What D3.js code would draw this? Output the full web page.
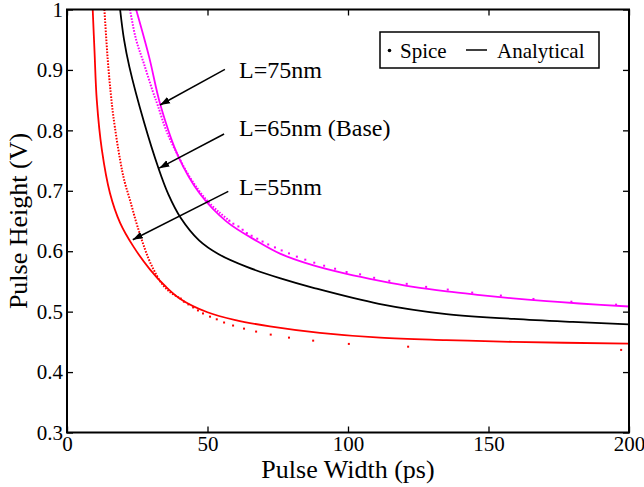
<!DOCTYPE html>
<html>
<head>
<meta charset="utf-8">
<script src="https://cdn.jsdelivr.net/npm/d3@7"></script>
<style>
  body { margin: 0; background: #fff; }
  svg { display: block; font-family: "Liberation Serif", "Times New Roman", serif; }
</style>
</head>
<body>
<div id="chart"></div>
<script>
// pulse width (ps), pulse height (V)

// analytical curves
const analytical55 = [[9.15,1.0],[9.8,0.93],[10.6,0.85],[12.4,0.768],[15.3,0.696],[18.9,0.647],[23.6,0.608],
  [29.5,0.57],[35,0.542],[40.2,0.5215],[50,0.499],[60,0.486],[72.2,0.4757],[90,0.465],[111.4,0.457],
  [135,0.453],[158.7,0.45],[200,0.447]];
const analytical65 = [[18.9,1.0],[20.3,0.95],[22.2,0.905],[27.5,0.812],[32.5,0.738],[36,0.695],[40.5,0.655],
  [47,0.618],[54,0.595],[64,0.574],[76,0.555],[88,0.539],[111,0.513],[135,0.496],[159,0.488],[180,0.483],[200,0.479]];
const analytical75 = [[24.6,1.0],[29.2,0.922],[33.3,0.841],[39.6,0.757],[47.3,0.695],[56.8,0.649],[67.5,0.617],
  [75.8,0.596],[87.7,0.5765],[99.5,0.5625],[111.4,0.551],[123.2,0.541],[135.1,0.5335],[147,0.5275],
  [158.8,0.522],[170.7,0.5175],[182.4,0.5135],[200,0.5085]];

// spice points: steep part (dots too close to separate) and the separate dots
const spice55Steep = [[13.3,1.0],[14.0,0.95],[14.7,0.905],[15.6,0.86],[16.5,0.823],[18.9,0.751],[20.5,0.715],
  [22.4,0.685],[24.5,0.65],[26.6,0.619],[28.9,0.589],[31,0.568],[33.5,0.548],[36.5,0.533],[40.5,0.5215]];
const spice55Pts = [[40.5,0.5215],[41.6,0.5165],[43.2,0.512],[44.9,0.507],[46.6,0.502],[48.4,0.497],
  [50.9,0.4917],[53.3,0.4873],[55.9,0.482],[59.1,0.477],[63.0,0.4719],[67.3,0.467],[72.5,0.462],[79.0,0.457],
  [87.6,0.452],[100.3,0.4466],[121.4,0.442],[197.2,0.4367]];
const spice75Steep = [[22.4,1.0],[24.6,0.95],[27.4,0.91],[30.5,0.865],[32.4,0.84],[35.3,0.8],[39.3,0.76],
  [43,0.728],[46.7,0.702],[50,0.683],[54,0.665],[57.8,0.6504]];
const spice75Pts = [[57.8,0.6504],[59.2,0.6455],[61.0,0.641],[62.5,0.6355],[64.0,0.63],[65.7,0.6256],
  [67.7,0.6207],[69.6,0.616],[71.6,0.6112],[74.0,0.6063],[76.4,0.6013],[79.0,0.5964],[81.8,0.591],[84.8,0.586],
  [88.0,0.581],[91.5,0.576],[95.4,0.571],[99.5,0.5656],[104.3,0.5617],[109.3,0.556],[114.7,0.551],[120.9,0.546],
  [127.8,0.541],[135.5,0.5365],[144.2,0.5315],[154.4,0.5266],[166.0,0.521],[179.5,0.5165],[195.4,0.5116]];

const xTicks = [0, 50, 100, 150, 200];
const yTicks = [0.3, 0.4, 0.5, 0.6, 0.7, 0.8, 0.9, 1];

// annotations: label, label anchor, arrow start, arrow tip (data coords)
const notes = [
  { text: "L=75nm", at: [61.2, 0.886], from: [56.2, 0.901], to: [33.1, 0.842] },
  { text: "L=65nm (Base)", at: [61.2, 0.791], from: [55.9, 0.794], to: [32.8, 0.7375] },
  { text: "L=55nm", at: [61.2, 0.693], from: [57.4, 0.699], to: [23.4, 0.619] }
];

const width = 644, height = 487;
const margin = { top: 9.5, right: 15, bottom: 54.5, left: 67 };

const svg = d3.select("#chart").append("svg")
  .attr("width", width)
  .attr("height", height);

const x = d3.scaleLinear().domain([0, 200]).range([margin.left, width - margin.right]);
const y = d3.scaleLinear().domain([0.3, 1]).range([height - margin.bottom, margin.top]);

svg.append("clipPath").attr("id", "plot")
  .append("rect")
  .attr("x", x(0)).attr("y", y(1))
  .attr("width", x(200) - x(0)).attr("height", y(0.3) - y(1));

const g = svg.append("g").attr("clip-path", "url(#plot)");

const line = d3.line()
  .x(d => x(d[0]))
  .y(d => y(d[1]))
  .curve(d3.curveCatmullRom.alpha(0.5));

// spice steep parts as dotted lines
[[spice55Steep, "#ff0000"], [spice75Steep, "#ff00ff"]].forEach(([data, color]) => {
  g.append("path")
    .datum(data)
    .attr("fill", "none")
    .attr("stroke", color)
    .attr("stroke-width", 2)
    .attr("stroke-dasharray", "1.6,1.4")
    .attr("d", line);
});

// analytical curves
[[analytical55, "#ff0000"], [analytical65, "#000000"], [analytical75, "#ff00ff"]].forEach(([data, color]) => {
  g.append("path")
    .datum(data)
    .attr("fill", "none")
    .attr("stroke", color)
    .attr("stroke-width", 1.8)
    .attr("d", line);
});

// spice dots
[[spice55Pts, "#ff0000"], [spice75Pts, "#ff00ff"]].forEach(([data, color]) => {
  g.selectAll(null)
    .data(data)
    .enter().append("rect")
    .attr("x", d => x(d[0]) - 1)
    .attr("y", d => y(d[1]) - 1)
    .attr("width", 2)
    .attr("height", 2)
    .attr("fill", color);
});

// axes: ticks inside, mirrored on top and right
svg.append("g")
  .attr("transform", `translate(0,${y(0.3)})`)
  .call(d3.axisBottom(x).tickValues(xTicks).tickSizeInner(-6).tickSizeOuter(0).tickPadding(4).tickFormat(d3.format("d")));
svg.append("g")
  .attr("transform", `translate(0,${y(1)})`)
  .call(d3.axisTop(x).tickValues(xTicks).tickSizeInner(-6).tickSizeOuter(0).tickFormat(""));
svg.append("g")
  .attr("transform", `translate(${x(0)},0)`)
  .call(d3.axisLeft(y).tickValues(yTicks).tickSizeInner(-6).tickSizeOuter(0).tickPadding(4).tickFormat(d => d === 1 ? "1" : d3.format(".1f")(d)));
svg.append("g")
  .attr("transform", `translate(${x(200)},0)`)
  .call(d3.axisRight(y).tickValues(yTicks).tickSizeInner(-6).tickSizeOuter(0).tickFormat(""));

svg.selectAll(".domain").remove();
svg.selectAll(".tick line").attr("stroke", "#000").attr("stroke-width", 1.3);
svg.selectAll(".tick text")
  .attr("fill", "#000")
  .style("font-family", "Liberation Serif")
  .style("font-size", "21px");

svg.append("rect")
  .attr("x", x(0)).attr("y", y(1))
  .attr("width", x(200) - x(0)).attr("height", y(0.3) - y(1))
  .attr("fill", "none")
  .attr("stroke", "#000")
  .attr("stroke-width", 2);

// axis labels
svg.append("text")
  .attr("x", (x(0) + x(200)) / 2)
  .attr("y", 478)
  .attr("text-anchor", "middle")
  .style("font-size", "26px")
  .text("Pulse Width (ps)");

svg.append("text")
  .attr("transform", `translate(27,${(y(0.3) + y(1)) / 2}) rotate(-90)`)
  .attr("text-anchor", "middle")
  .style("font-size", "26px")
  .text("Pulse Height (V)");

// arrows and labels
svg.append("defs").append("marker")
  .attr("id", "head")
  .attr("viewBox", "0 0 10 10")
  .attr("refX", 10).attr("refY", 5)
  .attr("markerWidth", 10).attr("markerHeight", 10)
  .attr("markerUnits", "userSpaceOnUse")
  .attr("orient", "auto")
  .append("path")
  .attr("d", "M0,1.5 L10,5 L0,8.5 Z")
  .attr("fill", "#000");

notes.forEach(n => {
  svg.append("line")
    .attr("x1", x(n.from[0])).attr("y1", y(n.from[1]))
    .attr("x2", x(n.to[0])).attr("y2", y(n.to[1]))
    .attr("stroke", "#000")
    .attr("stroke-width", 1.5)
    .attr("marker-end", "url(#head)");
  svg.append("text")
    .attr("x", x(n.at[0])).attr("y", y(n.at[1]))
    .style("font-size", "24px")
    .text(n.text);
});

// legend
const legend = svg.append("g").attr("transform", "translate(380,32)");
legend.append("rect")
  .attr("width", 219).attr("height", 36)
  .attr("fill", "#fff")
  .attr("stroke", "#000")
  .attr("stroke-width", 1.5);
legend.append("circle")
  .attr("cx", 9.5).attr("cy", 18.5).attr("r", 1.8)
  .attr("fill", "#000");
legend.append("text").attr("x", 20).attr("y", 26).style("font-size", "21px").text("Spice");
legend.append("line")
  .attr("x1", 86).attr("x2", 107).attr("y1", 18).attr("y2", 18)
  .attr("stroke", "#000").attr("stroke-width", 1.5);
legend.append("text").attr("x", 117).attr("y", 26).style("font-size", "21px").text("Analytical");
</script>
</body>
</html>
